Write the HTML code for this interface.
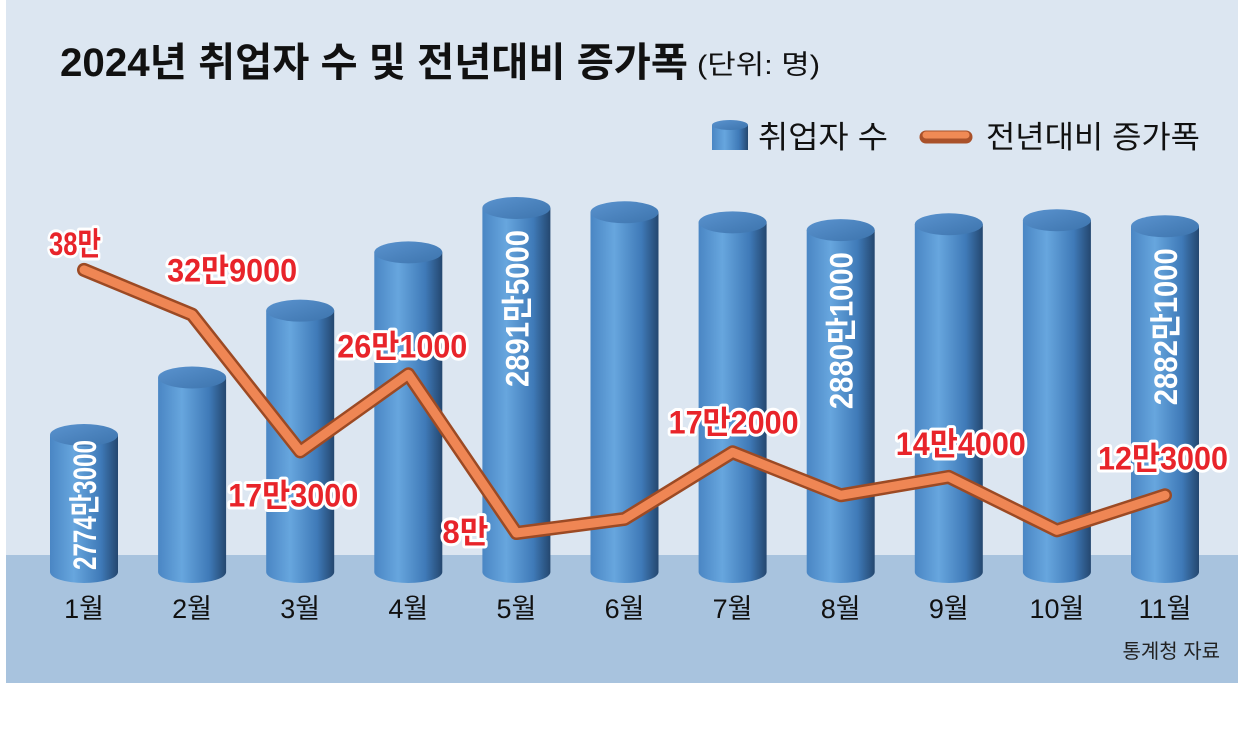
<!DOCTYPE html>
<html><head><meta charset="utf-8">
<style>
html,body{margin:0;padding:0;background:#fff;}
svg{display:block;font-family:"Liberation Sans","Noto Sans CJK KR",sans-serif;}
</style></head>
<body>
<svg id="chart" width="1244" height="738" viewBox="0 0 1244 738" xmlns="http://www.w3.org/2000/svg">
<defs>
<linearGradient id="cyl" x1="0" x2="1" y1="0" y2="0">
<stop offset="0" stop-color="#4a86c4"/><stop offset="0.35" stop-color="#67a6de"/><stop offset="0.75" stop-color="#3f7ab8"/><stop offset="1" stop-color="#24476f"/>
</linearGradient>
<linearGradient id="cap" x1="0" x2="1" y1="0" y2="1">
<stop offset="0" stop-color="#5a93cf"/><stop offset="1" stop-color="#3d74ad"/>
</linearGradient>
</defs>
<rect x="6" y="0" width="1232" height="683" fill="#dce6f1"/>
<rect x="6" y="555" width="1232" height="128" fill="#a8c3de"/>
<text x="60" y="76" font-size="40" font-weight="bold" fill="#111" textLength="628" lengthAdjust="spacingAndGlyphs">2024년 취업자 수 및 전년대비 증가폭</text>
<text x="697" y="74" font-size="27" fill="#111" textLength="123" lengthAdjust="spacingAndGlyphs">(단위: 명)</text>
<g>
<g>
<rect x="712" y="125" width="36" height="25" fill="url(#cyl)"/><ellipse cx="730" cy="125" rx="18" ry="5" fill="url(#cap)"/>
<text x="758" y="148" font-size="31" fill="#111" textLength="130" lengthAdjust="spacingAndGlyphs">취업자 수</text></g>
<g>
<line x1="926" y1="137" x2="966" y2="137" stroke="#a9512a" stroke-width="13" stroke-linecap="round"/>
<line x1="926" y1="135" x2="966" y2="135" stroke="#f08a55" stroke-width="7" stroke-linecap="round"/>
<text x="986" y="148" font-size="31" fill="#111" textLength="214" lengthAdjust="spacingAndGlyphs">전년대비 증가폭</text></g>
</g>
<g id="bars"></g>
<g id="line"></g>
<g id="labels"></g>
<text x="1220" y="658" font-size="20" text-anchor="end" fill="#222">통계청 자료</text>
</svg>
<script>
const months=["1월","2월","3월","4월","5월","6월","7월","8월","9월","10월","11월"];
const employed=[27743,28040,28385,28686,28915,28893,28841,28801,28831,28852,28821];
const barLabels=["2774만3000","","","","2891만5000","","","2880만1000","","","2882만1000"];
const change=[38,32.9,17.3,26.1,8,9.6,17.2,12.3,14.4,8.3,12.3];
const changeLabels=["38만","32만9000","17만3000","26만1000","8만","","17만2000","","14만4000","","12만3000"];
const labelOffsets=[[-9,-15],[40,-33],[-7,55],[-6,-17],[-51,10],[0,0],[1,-19],[0,0],[12,-22],[0,0],[-2,-26]];
const NS="http://www.w3.org/2000/svg";
const x=i=>84+i*108.1;
const yB=v=>435-(v-27743)*(227/1172);
const yL=v=>533-(v-8)*8.77;
const base=572,rw=34,ry=11;
function mk(t,a,p){const e=document.createElementNS(NS,t);for(const k in a)e.setAttribute(k,a[k]);p.appendChild(e);return e;}
const bars=document.getElementById('bars');
employed.forEach((v,i)=>{
 const g=mk('g',{},bars);
 
 
 const cx=x(i),top=yB(v);
 mk('path',{d:`M${cx-rw},${top} L${cx-rw},${base} A${rw},${ry} 0 0 0 ${cx+rw},${base} L${cx+rw},${top} Z`,fill:'url(#cyl)'},g);
 mk('ellipse',{cx:cx,cy:top,rx:rw,ry:ry,fill:'url(#cap)'},g);
 if(barLabels[i]){
  const startY=Math.min(base-2,top+22+157);
  const endY=Math.max(top+5,startY-157);
  const len=startY-endY;
  const t=mk('text',{x:0,y:0,transform:`translate(${cx+12},${startY}) rotate(-90)`,'font-size':32,'font-weight':'bold',fill:'#fff',textLength:len,lengthAdjust:'spacingAndGlyphs'},g);
  
  
  t.textContent=barLabels[i];
 }
 const m=mk('text',{x:cx,y:618,'font-size':27,'text-anchor':'middle',fill:'#111'},g);
 
 
 m.textContent=months[i];
});
const lg=document.getElementById('line');
const pts=change.map((v,i)=>x(i)+','+yL(v)).join(' ');
const sh=mk('polyline',{points:pts,fill:'none',stroke:'#9c4a24','stroke-width':14,'stroke-linejoin':'round','stroke-linecap':'round'},lg);


const ln=mk('polyline',{points:pts,fill:'none',stroke:'#ef8654','stroke-width':9,'stroke-linejoin':'round','stroke-linecap':'round'},lg);


const lb=document.getElementById('labels');
change.forEach((v,i)=>{
 if(!changeLabels[i])return;
 const s=changeLabels[i];
 const w=s.length>4?130:(s.length===3?52:46);
 const t=mk('text',{x:x(i)+labelOffsets[i][0],y:yL(v)+labelOffsets[i][1],'font-size':32,'font-weight':'bold','text-anchor':'middle',fill:'#e8242a',stroke:'#fff','stroke-width':6,'paint-order':'stroke','stroke-linejoin':'round',textLength:w,lengthAdjust:'spacingAndGlyphs'},lb);
 
 
 t.textContent=s;
});
</script>
</body></html>
